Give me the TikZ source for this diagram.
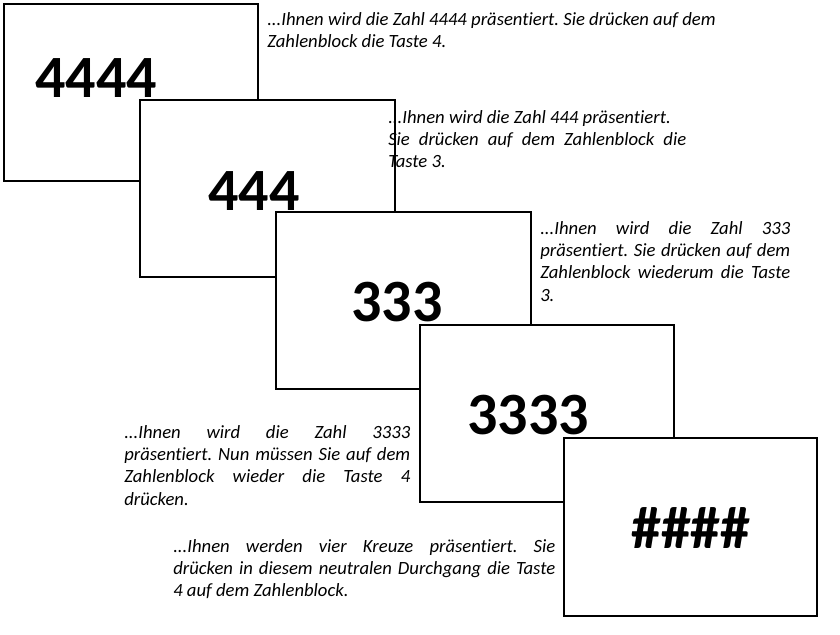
\documentclass[tikz,border=0pt]{standalone}
\usepackage{fontspec}
\setmainfont[Ligatures=NoCommon]{Carlito}
\frenchspacing

\begin{document}
\begin{tikzpicture}[x=0.75pt,y=-0.75pt,line join=miter,
  card/.style={draw,fill=white,line width=0.8pt},
  digits/.style={font=\bfseries\fontsize{45}{54}\selectfont,inner sep=0pt},
  note/.style={font=\itshape\fontsize{14}{16.7}\selectfont,inner sep=0pt,anchor=north west}]
  \useasboundingbox (0,0) rectangle (840,635);
  % the five cards, each one on top of the one before
  \filldraw[card] (4,4) rectangle (258,181);
  \node[digits] (n4444) at (96,78) {4444};
  \filldraw[card] (140,100) rectangle (395,277);
  \node[digits] (n444) at (254,191) {444};
  \filldraw[card] (276,212) rectangle (531,389);
  \node[digits] (n333) at (397,302) {333};
  \filldraw[card] (420,325) rectangle (674,502);
  \node[digits] (n3333) at (528,415) {3333};
  \filldraw[card] (564,438) rectangle (817,616);
  \node[digits] (nkreuz) at (691,528) {\#\#\#\#};
  % the notes beside the cards
  \node[note,align=left] (t1) at (267,12)
    {...Ihnen wird die Zahl 4444 präsentiert. Sie drücken auf dem\\
     Zahlenblock die Taste 4.};
  \node[note,align=justify,text width=223.5pt] (t2) at (388,110)
    {...Ihnen wird die Zahl 444 präsentiert.\\
     Sie drücken auf dem Zahlenblock die\linebreak Taste 3.};
  \node[note,align=justify,text width=187.5pt] (t3) at (540,221)
    {...Ihnen wird die Zahl 333\linebreak präsentiert. Sie drücken auf dem\linebreak
     Zahlenblock wiederum die Taste\linebreak 3.};
  \node[note,align=justify,text width=214.5pt] (t4) at (124,425)
    {...Ihnen wird die Zahl 3333\linebreak präsentiert. Nun müssen Sie auf dem\linebreak
     Zahlenblock wieder die Taste 4\linebreak drücken.};
  \node[note,align=justify,text width=286.5pt] (t5) at (173,539)
    {...Ihnen werden vier Kreuze präsentiert. Sie\linebreak
     drücken in diesem neutralen Durchgang die Taste\linebreak 4 auf dem Zahlenblock.};
\end{tikzpicture}
\end{document}
